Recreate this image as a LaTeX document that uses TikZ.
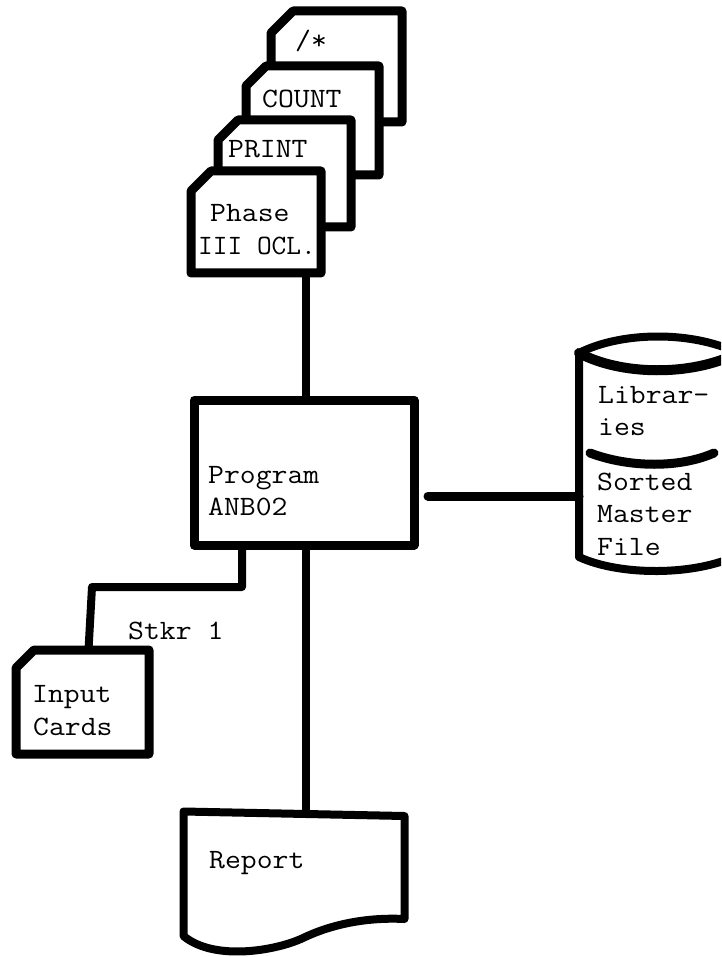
\documentclass[tikz,border=0pt]{standalone}
\usepackage{graphicx}
\tikzset{
  ink/.style={line width=9pt,line join=round,line cap=round,black},
  wire/.style={line width=8pt,black},
  lab/.style={font=\fontsize{28}{28}\selectfont\ttfamily,inner sep=0pt,anchor=base west}
}
\newcommand{\wider}[1]{\scalebox{1.1}[1]{#1}}
\newcommand{\cardshape}[6]{% name, left, top, right, bottom, cut
  \draw[ink,fill=white] (#2,#3+#6) -- (#2+#6,#3) -- (#4,#3) -- (#4,#5) -- (#2,#5) -- cycle;
  \node[inner sep=0pt,minimum width=#4pt-#2pt,minimum height=#5pt-#3pt] (#1) at ({(#2+#4)/2},{(#3+#5)/2}) {};
}
\begin{document}
\begin{tikzpicture}[x=1pt,y=-1pt]
\useasboundingbox (0,0) rectangle (721,957);
\fill[white] (0,0) rectangle (721,957);
\clip (0,0) rectangle (721,957);
% card deck, back to front
\cardshape{cardEnd}{271}{11}{402}{122}{22}
\cardshape{cardCount}{246}{66}{379}{175}{20}
\cardshape{cardPrint}{218}{120}{351}{227}{20}
\cardshape{cardPhase}{191}{171}{321}{273}{20}
\node[lab] (tEnd) at (295,50) {\wider{/*}};
\node[lab] (tCount) at (262,108) {\wider{COUNT}};
\node[lab] (tPrint) at (228,158) {\wider{PRINT}};
\node[lab] (tPhase1) at (210,222) {\wider{Phase}};
\node[lab] (tPhase2) at (198,255) {\scalebox{1.02}[1]{III OCL.}};
% program
\node[ink,draw,fill=white,inner sep=0pt,minimum width=220pt,minimum height=145pt] (prog) at (304,472.5) {};
\node[lab] (tProg1) at (208,483) {\wider{Program}};
\node[lab] (tProg2) at (208,515) {\wider{ANB02}};
% input cards
\cardshape{cardInput}{16}{650}{149}{754}{18}
\node[lab] (tInput1) at (32,702) {\wider{Input}};
\node[lab] (tInput2) at (33,735) {\wider{Cards}};
\node[lab] (tStkr) at (128,639) {\wider{Stkr 1}};
% report
\draw[line width=8pt,line join=round,black,fill=white] (183.5,811.5) -- (404.5,816) -- (404.5,919)
  .. controls (365,917) and (330,925) .. (303,938)
  .. controls (278,950) and (215,962) .. (183.5,936) -- cycle;
\coordinate (reportTop) at (306,812);
\node[lab] (tReport) at (209,868) {\wider{Report}};
% drum
\draw[ink,line width=8pt,fill=white] (579,353) .. controls (620,332) and (690,330) .. (738,353)
  -- (738,555) .. controls (695,576) and (620,576) .. (579,557) -- cycle;
\draw[ink,line width=10pt] (579,353) .. controls (620,375) and (690,377) .. (738,353);
\draw[line width=9pt,line cap=round,black] (590,453) .. controls (630,468) and (680,468) .. (714,453);
\coordinate (drumLeft) at (579,496);
\node[lab] (tLib1) at (598,403) {\wider{Librar-}};
\node[lab] (tLib2) at (598,435) {\wider{ies}};
\node[lab] (tSort) at (597,490) {\wider{Sorted}};
\node[lab] (tMast) at (597,522) {\wider{Master}};
\node[lab] (tFile) at (597,555) {\wider{File}};
% connectors
\draw[wire] ([xshift=2pt]prog.north |- cardPhase.south) -- ([xshift=2pt]prog.north);
\coordinate (progRight) at (428,496);
\draw[wire,line width=9pt,line cap=round] (progRight) -- (drumLeft);
\coordinate (inA) at (242,587);
\coordinate (inB) at (92,587);
\draw[wire,line join=round] ([xshift=-62pt]prog.south) -- (inA) -- (inB) -- (88.5,650);
\draw[wire] ([xshift=2pt]prog.south) -- (reportTop);
\end{tikzpicture}
\end{document}
